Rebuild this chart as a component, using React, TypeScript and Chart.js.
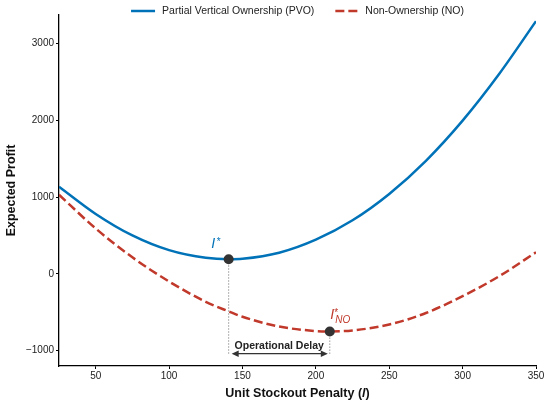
import React, { useEffect, useRef } from "react";
import { Chart, registerables } from "chart.js";

Chart.register(...registerables);

// values
const penaltyPVO = [25, 50, 75, 100, 125, 140.6, 150, 175, 200, 225, 250, 275, 300, 325, 350];
const profitPVO = [1135, 780, 500, 308, 208, 190, 196, 275, 445, 697, 1040, 1472, 1995, 2605, 3290];

const penaltyNO = [25, 50, 75, 100, 125, 140.6, 150, 175, 200, 209.5, 225, 250, 275, 300, 325, 350];
const profitNO = [1030, 590, 215, -100, -364, -489, -559, -686, -745, -750, -737, -660, -510, -291, -30, 280];

const optimumPenalty = [140.6, 209.5];
const optimumProfit = [190, -750];

const xTicks = [50, 100, 150, 200, 250, 300, 350];
const yTicks = [-1000, 0, 1000, 2000, 3000];

const seriesLabels = ["Partial Vertical Ownership (PVO)", "Non-Ownership (NO)"];
const delayLabel = "Operational Delay";

const FONT = "'Liberation Sans', Arial, sans-serif";
const BLUE = "#0072B8";
const RED = "#C0392B";

const annotations = {
    id: "annotations",
    beforeDatasetsDraw(chart: any) {
        const { ctx, scales } = chart;
        const yEnd = scales.y.getPixelForValue(-1060);
        ctx.save();
        ctx.strokeStyle = "#999";
        ctx.lineWidth = 1;
        ctx.setLineDash([1.5, 1.5]);
        optimumPenalty.forEach((p, i) => {
            const px = scales.x.getPixelForValue(p);
            ctx.beginPath();
            ctx.moveTo(px, scales.y.getPixelForValue(optimumProfit[i]));
            ctx.lineTo(px, yEnd);
            ctx.stroke();
        });
        ctx.restore();
    },
    afterDraw(chart: any) {
        const { ctx, scales, chartArea } = chart;
        const x1 = scales.x.getPixelForValue(optimumPenalty[0]);
        const y1 = scales.y.getPixelForValue(optimumProfit[0]);
        const x2 = scales.x.getPixelForValue(optimumPenalty[1]);
        const y2 = scales.y.getPixelForValue(optimumProfit[1]);
        ctx.save();

        // operational delay arrow
        const ay = scales.y.getPixelForValue(-1040);
        const l = x1 + 3;
        const r = x2 - 2;
        ctx.strokeStyle = "#333";
        ctx.fillStyle = "#333";
        ctx.lineWidth = 1.3;
        ctx.beginPath();
        ctx.moveTo(l + 4, ay);
        ctx.lineTo(r - 4, ay);
        ctx.stroke();
        ctx.beginPath();
        ctx.moveTo(l, ay);
        ctx.lineTo(l + 7, ay - 3.2);
        ctx.lineTo(l + 7, ay + 3.2);
        ctx.closePath();
        ctx.fill();
        ctx.beginPath();
        ctx.moveTo(r, ay);
        ctx.lineTo(r - 7, ay - 3.2);
        ctx.lineTo(r - 7, ay + 3.2);
        ctx.closePath();
        ctx.fill();
        ctx.font = `bold 10.5px ${FONT}`;
        ctx.fillStyle = "#222";
        ctx.textAlign = "center";
        ctx.textBaseline = "middle";
        ctx.fillText(delayLabel, (x1 + x2) / 2, scales.y.getPixelForValue(-935));

        // optimum labels
        ctx.textAlign = "left";
        ctx.textBaseline = "alphabetic";
        ctx.fillStyle = BLUE;
        ctx.font = `italic 14px ${FONT}`;
        ctx.fillText("I", x1 - 17.5, y1 - 11);
        ctx.font = `10px ${FONT}`;
        ctx.fillText("*", x1 - 12, y1 - 14);

        ctx.fillStyle = RED;
        ctx.font = `italic 14px ${FONT}`;
        ctx.fillText("I", x2 + 0.5, y2 - 12.5);
        ctx.font = `italic 10px ${FONT}`;
        ctx.fillText("NO", x2 + 5.5, y2 - 8.5);
        ctx.font = `10px ${FONT}`;
        ctx.fillText("*", x2 + 4.5, y2 - 15);

        // legend
        ctx.font = `10.5px ${FONT}`;
        const w1 = ctx.measureText(seriesLabels[0]).width;
        const w2 = ctx.measureText(seriesLabels[1]).width;
        const total = 24 + 7 + w1 + 21 + 22 + 8 + w2;
        let lx = (chartArea.left + chartArea.right) / 2 - total / 2;
        const ly = 11;
        ctx.lineWidth = 2.5;
        ctx.strokeStyle = BLUE;
        ctx.beginPath();
        ctx.moveTo(lx, ly);
        ctx.lineTo(lx + 24, ly);
        ctx.stroke();
        lx += 31;
        ctx.fillStyle = "#222";
        ctx.textBaseline = "middle";
        ctx.fillText(seriesLabels[0], lx, ly);
        lx += w1 + 21;
        ctx.strokeStyle = RED;
        ctx.setLineDash([9, 4]);
        ctx.beginPath();
        ctx.moveTo(lx, ly);
        ctx.lineTo(lx + 22, ly);
        ctx.stroke();
        ctx.setLineDash([]);
        lx += 30;
        ctx.fillText(seriesLabels[1], lx, ly);

        // x axis title with italic l
        ctx.fillStyle = "#111";
        ctx.textBaseline = "middle";
        const partA = "Unit Stockout Penalty (";
        ctx.font = `bold 12.5px ${FONT}`;
        const wa = ctx.measureText(partA).width;
        const wc = ctx.measureText(")").width;
        ctx.font = `italic bold 12.5px ${FONT}`;
        const wb = ctx.measureText("l").width;
        let tx = (chartArea.left + chartArea.right) / 2 - (wa + wb + wc) / 2;
        const ty = 394;
        ctx.font = `bold 12.5px ${FONT}`;
        ctx.fillText(partA, tx, ty);
        tx += wa;
        ctx.font = `italic bold 12.5px ${FONT}`;
        ctx.fillText("l", tx, ty);
        tx += wb;
        ctx.font = `bold 12.5px ${FONT}`;
        ctx.fillText(")", tx, ty);

        ctx.restore();
    },
};

const App: React.FC = () => {
    const chartRef = useRef<HTMLCanvasElement | null>(null);
    const chartInstanceRef = useRef<Chart | null>(null);

    useEffect(() => {
        document.body.style.margin = "0";
        if (!chartRef.current) return;
        const ctx = chartRef.current.getContext("2d");
        if (!ctx) return;

        chartInstanceRef.current = new Chart(ctx, {
            type: "line",
            data: {
                datasets: [
                    {
                        label: "Optimum",
                        data: optimumPenalty.map((p, i) => ({ x: p, y: optimumProfit[i] })),
                        showLine: false,
                        pointRadius: 5,
                        pointBackgroundColor: "#333",
                        pointBorderColor: "#333",
                        pointBorderWidth: 0,
                    },
                    {
                        label: seriesLabels[0],
                        data: penaltyPVO.map((p, i) => ({ x: p, y: profitPVO[i] })),
                        borderColor: BLUE,
                        borderWidth: 2.5,
                        pointRadius: 0,
                        cubicInterpolationMode: "monotone",
                    },
                    {
                        label: seriesLabels[1],
                        data: penaltyNO.map((p, i) => ({ x: p, y: profitNO[i] })),
                        borderColor: RED,
                        borderWidth: 2.5,
                        borderDash: [9, 4],
                        pointRadius: 0,
                        cubicInterpolationMode: "monotone",
                    },
                ],
            },
            options: {
                responsive: false,
                animation: false,
                layout: { padding: { top: 15, right: 14, left: 0, bottom: 0 } },
                plugins: {
                    legend: { display: false },
                    tooltip: { enabled: false },
                },
                scales: {
                    x: {
                        type: "linear",
                        min: 25,
                        max: 350,
                        afterBuildTicks: (scale: any) => {
                            scale.ticks = xTicks.map(v => ({ value: v }));
                        },
                        afterFit: (scale: any) => {
                            scale.height = 42;
                        },
                        grid: { drawOnChartArea: false, tickLength: 3, color: "#000" },
                        border: { color: "#000", width: 1.3 },
                        ticks: {
                            padding: 1,
                            color: "#222",
                            font: { family: FONT, size: 10 },
                            maxRotation: 0,
                        },
                    },
                    y: {
                        min: -1200,
                        max: 3370,
                        afterBuildTicks: (scale: any) => {
                            scale.ticks = yTicks.map(v => ({ value: v }));
                        },
                        afterFit: (scale: any) => {
                            scale.width = 59;
                        },
                        grid: { drawOnChartArea: false, tickLength: 3, color: "#000" },
                        border: { color: "#000", width: 1.3 },
                        ticks: {
                            padding: 2,
                            color: "#222",
                            font: { family: FONT, size: 10 },
                            callback: (v: any) => (v < 0 ? "\u2212" + Math.abs(v) : String(v)),
                        },
                        title: {
                            display: true,
                            text: "Expected Profit",
                            color: "#111",
                            font: { family: FONT, size: 12.5, weight: "bold" },
                            padding: { top: 4, bottom: 0 },
                        },
                    },
                },
            },
            plugins: [annotations],
        });

        return () => {
            if (chartInstanceRef.current) {
                chartInstanceRef.current.destroy();
                chartInstanceRef.current = null;
            }
        };
    }, []);

    return (
        <div style={{ width: "550px", height: "408px", background: "#fff" }}>
            <canvas ref={chartRef} width="550" height="408"></canvas>
        </div>
    );
};

export default App;
